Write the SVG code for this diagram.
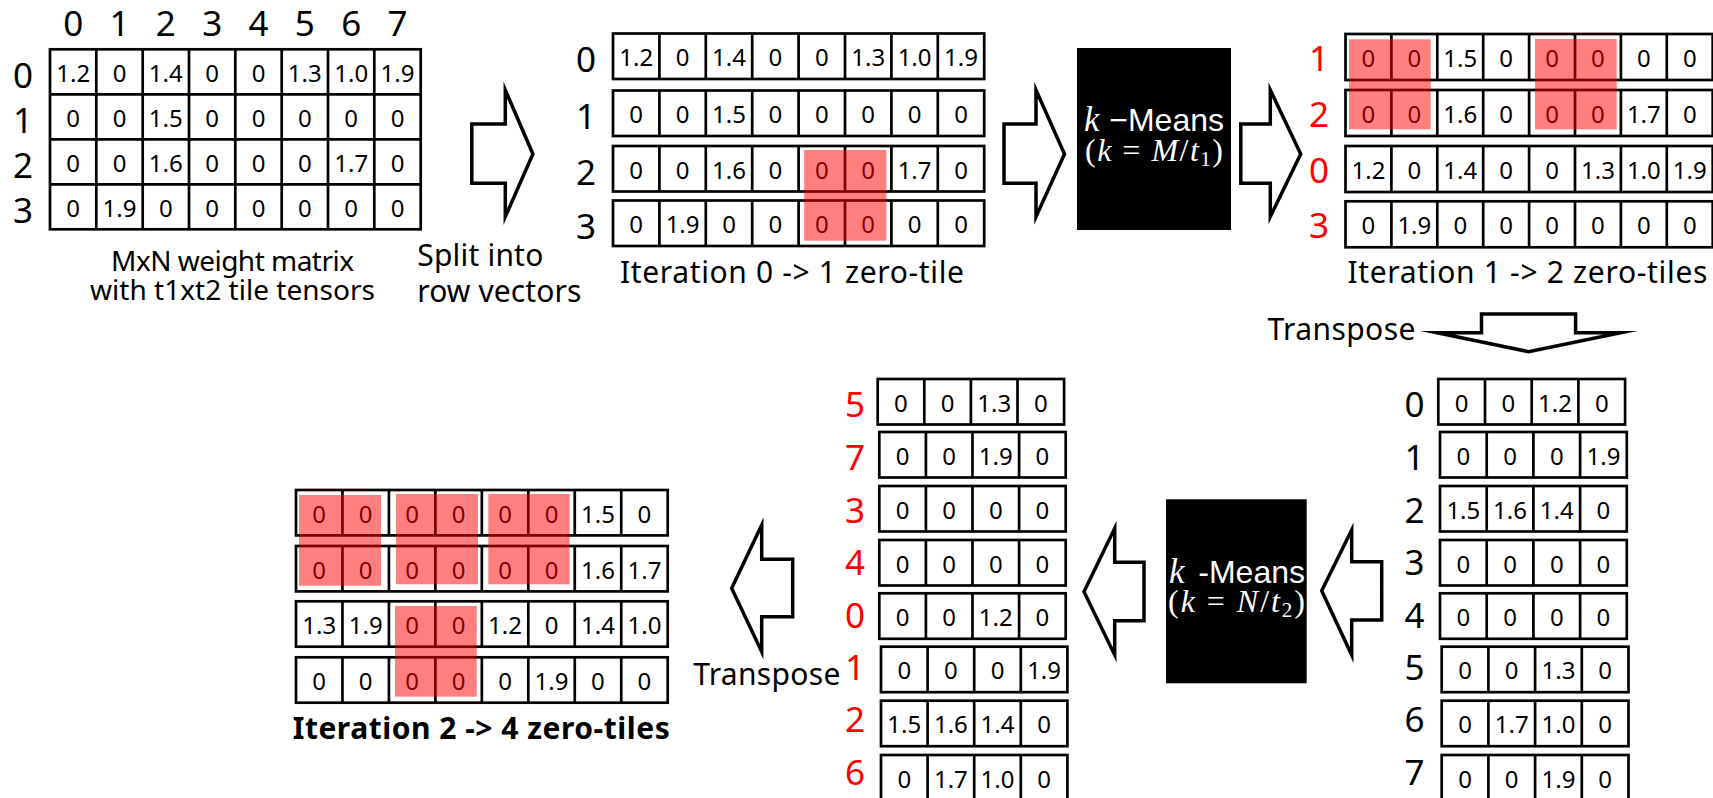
<svg xmlns="http://www.w3.org/2000/svg" xmlns:xlink="http://www.w3.org/1999/xlink" width="1713" height="798" viewBox="0 0 1713 798">
<style>
text{font-family:"Noto Sans","Liberation Sans",sans-serif;fill:#000}
.num{font-size:24px;text-anchor:middle}
.lbl{font-size:35px;text-anchor:middle}
.red{fill:#f00}
.cap{font-size:30px}
.cap28{font-size:28px;text-anchor:middle}
.bold{font-weight:bold}
.cell{fill:#fff;stroke:#000;stroke-width:2.7}
.grid{fill:none;stroke:#000;stroke-width:2.7}
.hl{fill:#f00;fill-opacity:.5}
.arrow{fill:#fff;stroke:#000;stroke-width:3.5;stroke-linejoin:miter;stroke-miterlimit:10}
.kbox{fill:#000}
.km{font-family:"Liberation Sans",Arial,sans-serif;font-size:32px;fill:#fff}
.math{font-family:"Liberation Serif","Times New Roman",serif;font-size:32px;fill:#fff}
.kvar{font-family:"Liberation Serif","Times New Roman",serif;font-size:35px;font-style:italic;fill:#fff}
.mi{font-style:italic}
</style>
<defs>
  <!-- row frames: 8-cell and 4-cell vectors -->
  <g id="r8a"><rect class="cell" width="371.2" height="45.5"/><path class="grid" d="M46.4 0v45.5M92.8 0v45.5M139.2 0v45.5M185.6 0v45.5M232 0v45.5M278.4 0v45.5M324.8 0v45.5"/></g>
  <g id="r8b"><rect class="cell" width="367.2" height="46"/><path class="grid" d="M45.9 0v46M91.8 0v46M137.7 0v46M183.6 0v46M229.5 0v46M275.4 0v46M321.3 0v46"/></g>
  <g id="r8c"><rect class="cell" width="371.7" height="45.4"/><path class="grid" d="M46.46 0v45.4M92.92 0v45.4M139.38 0v45.4M185.84 0v45.4M232.3 0v45.4M278.76 0v45.4M325.22 0v45.4"/></g>
  <g id="r4a"><rect class="cell" width="186.4" height="45.5"/><path class="grid" d="M46.6 0v45.5M93.2 0v45.5M139.8 0v45.5"/></g>
  <g id="r4b"><rect class="cell" width="186.8" height="45.5"/><path class="grid" d="M46.7 0v45.5M93.4 0v45.5M140.1 0v45.5"/></g>
</defs>

<!-- M x N weight matrix -->
<g id="weight-matrix">
  <rect class="cell" x="50" y="49.3" width="370.7" height="180"/>
  <path class="grid" d="M96.3 49.3V229.3M142.7 49.3V229.3M189 49.3V229.3M235.3 49.3V229.3M281.7 49.3V229.3M328 49.3V229.3M374.3 49.3V229.3M50 94.3H420.7M50 139.3H420.7M50 184.3H420.7"/>
  <text class="lbl" y="36"><tspan x="73.2">0</tspan><tspan x="119.5">1</tspan><tspan x="165.8">2</tspan><tspan x="212.2">3</tspan><tspan x="258.5">4</tspan><tspan x="304.8">5</tspan><tspan x="351.2">6</tspan><tspan x="397.5">7</tspan></text>
  <text class="lbl"><tspan x="23" y="87.8">0</tspan><tspan x="23" y="132.8">1</tspan><tspan x="23" y="177.8">2</tspan><tspan x="23" y="222.8">3</tspan></text>
  <text class="num" y="81.8"><tspan x="73.2">1.2</tspan><tspan x="119.5">0</tspan><tspan x="165.8">1.4</tspan><tspan x="212.2">0</tspan><tspan x="258.5">0</tspan><tspan x="304.8">1.3</tspan><tspan x="351.2">1.0</tspan><tspan x="397.5">1.9</tspan></text>
  <text class="num" y="126.8"><tspan x="73.2">0</tspan><tspan x="119.5">0</tspan><tspan x="165.8">1.5</tspan><tspan x="212.2">0</tspan><tspan x="258.5">0</tspan><tspan x="304.8">0</tspan><tspan x="351.2">0</tspan><tspan x="397.5">0</tspan></text>
  <text class="num" y="171.8"><tspan x="73.2">0</tspan><tspan x="119.5">0</tspan><tspan x="165.8">1.6</tspan><tspan x="212.2">0</tspan><tspan x="258.5">0</tspan><tspan x="304.8">0</tspan><tspan x="351.2">1.7</tspan><tspan x="397.5">0</tspan></text>
  <text class="num" y="216.8"><tspan x="73.2">0</tspan><tspan x="119.5">1.9</tspan><tspan x="165.8">0</tspan><tspan x="212.2">0</tspan><tspan x="258.5">0</tspan><tspan x="304.8">0</tspan><tspan x="351.2">0</tspan><tspan x="397.5">0</tspan></text>
  <text class="cap28" x="232.5" y="271" textLength="243">MxN weight matrix</text>
  <text class="cap28" x="232.5" y="300" textLength="285">with t1xt2 tile tensors</text>
</g>

<!-- split step label -->
<g id="split-label">
  <text class="cap" x="417.3" y="266" textLength="126">Split into</text>
  <text class="cap" x="417.3" y="301.7" textLength="164">row vectors</text>
</g>

<!-- iteration 0: row vectors -->
<g id="iteration-0">
  <text class="lbl"><tspan x="586" y="72.3">0</tspan><tspan x="586" y="129.3">1</tspan><tspan x="586" y="184.8">2</tspan><tspan x="586" y="239.3">3</tspan></text>
  <g transform="translate(613 33.5)"><use xlink:href="#r8a"/><text class="num" y="32.75"><tspan x="23.2">1.2</tspan><tspan x="69.6">0</tspan><tspan x="116">1.4</tspan><tspan x="162.4">0</tspan><tspan x="208.8">0</tspan><tspan x="255.2">1.3</tspan><tspan x="301.6">1.0</tspan><tspan x="348">1.9</tspan></text></g>
  <g transform="translate(613 90.5)"><use xlink:href="#r8a"/><text class="num" y="32.75"><tspan x="23.2">0</tspan><tspan x="69.6">0</tspan><tspan x="116">1.5</tspan><tspan x="162.4">0</tspan><tspan x="208.8">0</tspan><tspan x="255.2">0</tspan><tspan x="301.6">0</tspan><tspan x="348">0</tspan></text></g>
  <g transform="translate(613 146)"><use xlink:href="#r8a"/><text class="num" y="32.75"><tspan x="23.2">0</tspan><tspan x="69.6">0</tspan><tspan x="116">1.6</tspan><tspan x="162.4">0</tspan><tspan x="208.8">0</tspan><tspan x="255.2">0</tspan><tspan x="301.6">1.7</tspan><tspan x="348">0</tspan></text></g>
  <g transform="translate(613 200.5)"><use xlink:href="#r8a"/><text class="num" y="32.75"><tspan x="23.2">0</tspan><tspan x="69.6">1.9</tspan><tspan x="116">0</tspan><tspan x="162.4">0</tspan><tspan x="208.8">0</tspan><tspan x="255.2">0</tspan><tspan x="301.6">0</tspan><tspan x="348">0</tspan></text></g>
  <rect class="hl" x="804.2" y="150" width="82.2" height="90.7"/>
  <text class="cap" x="620" y="283" textLength="344">Iteration 0 -&gt; 1 zero-tile</text>
</g>

<!-- k-means over rows -->
<g id="kmeans-rows">
  <rect class="kbox" x="1077" y="48" width="154" height="182"/>
  <text class="kvar" x="1084" y="131">k</text>
  <text class="km" x="1224" y="131" text-anchor="end">−Means</text>
  <text class="math" x="1085" y="161" textLength="138">(<tspan class="mi">k</tspan> = <tspan class="mi">M</tspan>/<tspan class="mi">t</tspan><tspan font-size="21" dy="5">1</tspan><tspan dy="-5">)</tspan></text>
</g>

<!-- iteration 1: reordered rows -->
<g id="iteration-1">
  <text class="lbl red"><tspan x="1319" y="71">1</tspan><tspan x="1319" y="127">2</tspan><tspan x="1319" y="182.7">0</tspan><tspan x="1319" y="238">3</tspan></text>
  <g transform="translate(1345.5 34)"><use xlink:href="#r8b"/><text class="num" y="33"><tspan x="22.95">0</tspan><tspan x="68.85">0</tspan><tspan x="114.75">1.5</tspan><tspan x="160.65">0</tspan><tspan x="206.55">0</tspan><tspan x="252.45">0</tspan><tspan x="298.35">0</tspan><tspan x="344.25">0</tspan></text></g>
  <g transform="translate(1345.5 90)"><use xlink:href="#r8b"/><text class="num" y="33"><tspan x="22.95">0</tspan><tspan x="68.85">0</tspan><tspan x="114.75">1.6</tspan><tspan x="160.65">0</tspan><tspan x="206.55">0</tspan><tspan x="252.45">0</tspan><tspan x="298.35">1.7</tspan><tspan x="344.25">0</tspan></text></g>
  <g transform="translate(1345.5 146)"><use xlink:href="#r8b"/><text class="num" y="33"><tspan x="22.95">1.2</tspan><tspan x="68.85">0</tspan><tspan x="114.75">1.4</tspan><tspan x="160.65">0</tspan><tspan x="206.55">0</tspan><tspan x="252.45">1.3</tspan><tspan x="298.35">1.0</tspan><tspan x="344.25">1.9</tspan></text></g>
  <g transform="translate(1345.5 201.3)"><use xlink:href="#r8b"/><text class="num" y="33"><tspan x="22.95">0</tspan><tspan x="68.85">1.9</tspan><tspan x="114.75">0</tspan><tspan x="160.65">0</tspan><tspan x="206.55">0</tspan><tspan x="252.45">0</tspan><tspan x="298.35">0</tspan><tspan x="344.25">0</tspan></text></g>
  <rect class="hl" x="1349" y="39.3" width="81.7" height="90"/>
  <rect class="hl" x="1535" y="39" width="81.7" height="90.3"/>
  <text class="cap" x="1347.4" y="283" textLength="360">Iteration 1 -&gt; 2 zero-tiles</text>
  <text class="cap" x="1267.4" y="340" textLength="148">Transpose</text>
</g>

<!-- transposed column vectors -->
<g id="transposed">
  <text class="lbl"><tspan x="1414.5" y="417.3">0</tspan><tspan x="1414.5" y="470">1</tspan><tspan x="1414.5" y="523">2</tspan><tspan x="1414.5" y="575">3</tspan><tspan x="1414.5" y="628">4</tspan><tspan x="1414.5" y="680">5</tspan><tspan x="1414.5" y="731.7">6</tspan><tspan x="1414.5" y="785">7</tspan></text>
  <g transform="translate(1438.3 379)"><use xlink:href="#r4b"/><text class="num" y="32.75"><tspan x="23.35">0</tspan><tspan x="70.05">0</tspan><tspan x="116.75">1.2</tspan><tspan x="163.45">0</tspan></text></g>
  <g transform="translate(1440 432)"><use xlink:href="#r4b"/><text class="num" y="32.75"><tspan x="23.35">0</tspan><tspan x="70.05">0</tspan><tspan x="116.75">0</tspan><tspan x="163.45">1.9</tspan></text></g>
  <g transform="translate(1440 486)"><use xlink:href="#r4b"/><text class="num" y="32.75"><tspan x="23.35">1.5</tspan><tspan x="70.05">1.6</tspan><tspan x="116.75">1.4</tspan><tspan x="163.45">0</tspan></text></g>
  <g transform="translate(1440 540)"><use xlink:href="#r4b"/><text class="num" y="32.75"><tspan x="23.35">0</tspan><tspan x="70.05">0</tspan><tspan x="116.75">0</tspan><tspan x="163.45">0</tspan></text></g>
  <g transform="translate(1440 593.3)"><use xlink:href="#r4b"/><text class="num" y="32.75"><tspan x="23.35">0</tspan><tspan x="70.05">0</tspan><tspan x="116.75">0</tspan><tspan x="163.45">0</tspan></text></g>
  <g transform="translate(1441.7 646.7)"><use xlink:href="#r4b"/><text class="num" y="32.75"><tspan x="23.35">0</tspan><tspan x="70.05">0</tspan><tspan x="116.75">1.3</tspan><tspan x="163.45">0</tspan></text></g>
  <g transform="translate(1441.7 700.7)"><use xlink:href="#r4b"/><text class="num" y="32.75"><tspan x="23.35">0</tspan><tspan x="70.05">1.7</tspan><tspan x="116.75">1.0</tspan><tspan x="163.45">0</tspan></text></g>
  <g transform="translate(1441.7 755)"><use xlink:href="#r4b"/><text class="num" y="32.75"><tspan x="23.35">0</tspan><tspan x="70.05">0</tspan><tspan x="116.75">1.9</tspan><tspan x="163.45">0</tspan></text></g>
</g>

<!-- k-means over columns -->
<g id="kmeans-cols">
  <rect class="kbox" x="1166" y="499.3" width="140.7" height="184"/>
  <text class="kvar" x="1169" y="583">k</text>
  <text class="km" x="1305" y="583" text-anchor="end">-Means</text>
  <text class="math" x="1168" y="612" textLength="137">(<tspan class="mi">k</tspan> = <tspan class="mi">N</tspan>/<tspan class="mi">t</tspan><tspan font-size="21" dy="5">2</tspan><tspan dy="-5">)</tspan></text>
</g>

<!-- reordered column vectors -->
<g id="reordered-cols">
  <text class="lbl red"><tspan x="855" y="417.3">5</tspan><tspan x="855" y="470">7</tspan><tspan x="855" y="523">3</tspan><tspan x="855" y="575">4</tspan><tspan x="855" y="628">0</tspan><tspan x="855" y="680">1</tspan><tspan x="855" y="731.7">2</tspan><tspan x="855" y="785">6</tspan></text>
  <g transform="translate(877.7 379)"><use xlink:href="#r4a"/><text class="num" y="32.75"><tspan x="23.3">0</tspan><tspan x="69.9">0</tspan><tspan x="116.5">1.3</tspan><tspan x="163.1">0</tspan></text></g>
  <g transform="translate(879.3 432)"><use xlink:href="#r4a"/><text class="num" y="32.75"><tspan x="23.3">0</tspan><tspan x="69.9">0</tspan><tspan x="116.5">1.9</tspan><tspan x="163.1">0</tspan></text></g>
  <g transform="translate(879.3 486)"><use xlink:href="#r4a"/><text class="num" y="32.75"><tspan x="23.3">0</tspan><tspan x="69.9">0</tspan><tspan x="116.5">0</tspan><tspan x="163.1">0</tspan></text></g>
  <g transform="translate(879.3 540)"><use xlink:href="#r4a"/><text class="num" y="32.75"><tspan x="23.3">0</tspan><tspan x="69.9">0</tspan><tspan x="116.5">0</tspan><tspan x="163.1">0</tspan></text></g>
  <g transform="translate(879.3 593.3)"><use xlink:href="#r4a"/><text class="num" y="32.75"><tspan x="23.3">0</tspan><tspan x="69.9">0</tspan><tspan x="116.5">1.2</tspan><tspan x="163.1">0</tspan></text></g>
  <g transform="translate(881 646.7)"><use xlink:href="#r4a"/><text class="num" y="32.75"><tspan x="23.3">0</tspan><tspan x="69.9">0</tspan><tspan x="116.5">0</tspan><tspan x="163.1">1.9</tspan></text></g>
  <g transform="translate(881 700.7)"><use xlink:href="#r4a"/><text class="num" y="32.75"><tspan x="23.3">1.5</tspan><tspan x="69.9">1.6</tspan><tspan x="116.5">1.4</tspan><tspan x="163.1">0</tspan></text></g>
  <g transform="translate(881 755)"><use xlink:href="#r4a"/><text class="num" y="32.75"><tspan x="23.3">0</tspan><tspan x="69.9">1.7</tspan><tspan x="116.5">1.0</tspan><tspan x="163.1">0</tspan></text></g>
  <text class="cap" x="693.3" y="685" textLength="147">Transpose</text>
</g>

<!-- iteration 2: final tiled matrix -->
<g id="iteration-2">
  <g transform="translate(296 490)"><use xlink:href="#r8c"/><text class="num" y="32.7"><tspan x="23.23">0</tspan><tspan x="69.69">0</tspan><tspan x="116.15">0</tspan><tspan x="162.61">0</tspan><tspan x="209.07">0</tspan><tspan x="255.53">0</tspan><tspan x="301.99">1.5</tspan><tspan x="348.45">0</tspan></text></g>
  <g transform="translate(296 546)"><use xlink:href="#r8c"/><text class="num" y="32.7"><tspan x="23.23">0</tspan><tspan x="69.69">0</tspan><tspan x="116.15">0</tspan><tspan x="162.61">0</tspan><tspan x="209.07">0</tspan><tspan x="255.53">0</tspan><tspan x="301.99">1.6</tspan><tspan x="348.45">1.7</tspan></text></g>
  <g transform="translate(296 601.3)"><use xlink:href="#r8c"/><text class="num" y="32.7"><tspan x="23.23">1.3</tspan><tspan x="69.69">1.9</tspan><tspan x="116.15">0</tspan><tspan x="162.61">0</tspan><tspan x="209.07">1.2</tspan><tspan x="255.53">0</tspan><tspan x="301.99">1.4</tspan><tspan x="348.45">1.0</tspan></text></g>
  <g transform="translate(296 657.3)"><use xlink:href="#r8c"/><text class="num" y="32.7"><tspan x="23.23">0</tspan><tspan x="69.69">0</tspan><tspan x="116.15">0</tspan><tspan x="162.61">0</tspan><tspan x="209.07">0</tspan><tspan x="255.53">1.9</tspan><tspan x="301.99">0</tspan><tspan x="348.45">0</tspan></text></g>
  <rect class="hl" x="299" y="495" width="82" height="90.7"/>
  <rect class="hl" x="396" y="494" width="82" height="90.3"/>
  <rect class="hl" x="488.3" y="494" width="81.4" height="90.3"/>
  <rect class="hl" x="395" y="606" width="81.7" height="90.7"/>
  <text class="cap bold" x="292.7" y="739.3" textLength="377">Iteration 2 -&gt; 4 zero-tiles</text>
</g>

<!-- block arrows between stages -->
<g id="connectors">
  <path class="arrow" d="M471.8 124H505.3V90L532.9 154L505.3 216.7V183.3H471.8Z"/>
  <path class="arrow" d="M1004 124H1036V90L1064.5 154L1036 216.7V183.3H1004Z"/>
  <path class="arrow" d="M1240.8 124H1270.3V90L1300.7 154L1270.3 216.7V183.3H1240.8Z"/>
  <path class="arrow" d="M1481.5 314H1575.6V332.7H1620.6L1528.6 351.7L1437 332.7H1481.5Z"/>
  <path class="arrow" d="M1321.7 590.7L1351.7 530V561.7H1381.7V620H1351.7V655Z"/>
  <path class="arrow" d="M1084 591.7L1114.7 528.3V562.3H1144V620.7H1114.7V655Z"/>
  <path class="arrow" d="M731.7 588.3L761.7 525V559.3H792.7V616.7H761.7V651.7Z"/>
</g>
</svg>
